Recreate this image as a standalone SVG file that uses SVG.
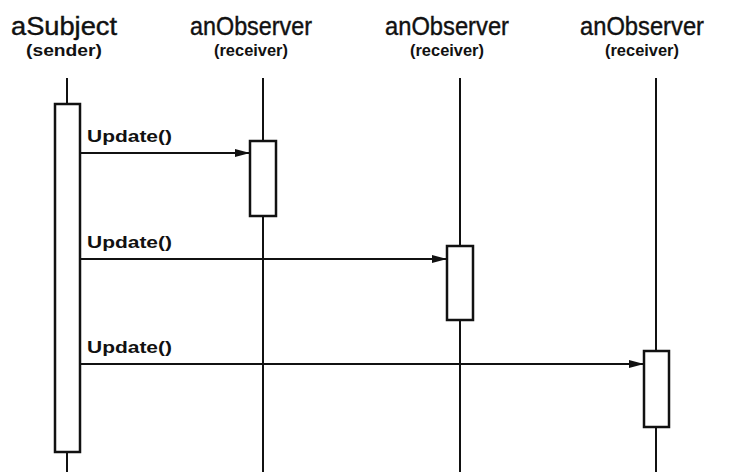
<svg xmlns="http://www.w3.org/2000/svg" width="735" height="472" viewBox="0 0 735 472">
<style>
.title{font-family:"Liberation Sans",Arial,sans-serif;font-size:25px;fill:#111;stroke:#111;stroke-width:0.4;text-anchor:middle}
.sub{font-family:"Liberation Sans",Arial,sans-serif;font-size:17px;font-weight:bold;fill:#111;text-anchor:middle}
.msg{font-family:"Liberation Sans",Arial,sans-serif;font-size:17px;font-weight:bold;fill:#111}
.life{stroke:#111;stroke-width:2;fill:none}
.act{stroke:#111;stroke-width:2.5;fill:#fff}
.arrow{stroke:#111;stroke-width:2;fill:none;marker-end:url(#ah)}
</style>
<defs>
<marker id="ah" markerUnits="userSpaceOnUse" markerWidth="16" markerHeight="10" refX="15" refY="5" orient="auto">
<path d="M0,1 L15,5 L0,9 Z" fill="#111"/>
</marker>
</defs>
<rect width="735" height="472" fill="#fff"/>
<g id="subject">
<text class="title" x="64" y="35" textLength="106" lengthAdjust="spacingAndGlyphs">aSubject</text>
<text class="sub" x="64" y="56" textLength="76" lengthAdjust="spacingAndGlyphs">(sender)</text>
<line class="life" x1="67" y1="78" x2="67" y2="472"/>
<rect class="act" x="55" y="104" width="25" height="348"/>
</g>
<g id="observer1">
<text class="title" x="251" y="35" textLength="122" lengthAdjust="spacingAndGlyphs">anObserver</text>
<text class="sub" x="251" y="56" textLength="74" lengthAdjust="spacingAndGlyphs">(receiver)</text>
<line class="life" x1="263" y1="78" x2="263" y2="472"/>
<rect class="act" x="250" y="141" width="26" height="75"/>
</g>
<g id="observer2">
<text class="title" x="447" y="35" textLength="124" lengthAdjust="spacingAndGlyphs">anObserver</text>
<text class="sub" x="447" y="56" textLength="74" lengthAdjust="spacingAndGlyphs">(receiver)</text>
<line class="life" x1="460" y1="78" x2="460" y2="472"/>
<rect class="act" x="447" y="246" width="26" height="74"/>
</g>
<g id="observer3">
<text class="title" x="642" y="35" textLength="124" lengthAdjust="spacingAndGlyphs">anObserver</text>
<text class="sub" x="642" y="56" textLength="74" lengthAdjust="spacingAndGlyphs">(receiver)</text>
<line class="life" x1="656" y1="78" x2="656" y2="472"/>
<rect class="act" x="644" y="351" width="25" height="76"/>
</g>
<g id="connectors">
<line class="arrow" x1="80" y1="153" x2="250" y2="153"/>
<text class="msg" x="87" y="142" textLength="85" lengthAdjust="spacingAndGlyphs">Update()</text>
<line class="arrow" x1="80" y1="259" x2="447" y2="259"/>
<text class="msg" x="87" y="248" textLength="85" lengthAdjust="spacingAndGlyphs">Update()</text>
<line class="arrow" x1="80" y1="364" x2="644" y2="364"/>
<text class="msg" x="87" y="353" textLength="85" lengthAdjust="spacingAndGlyphs">Update()</text>
</g>
</svg>
